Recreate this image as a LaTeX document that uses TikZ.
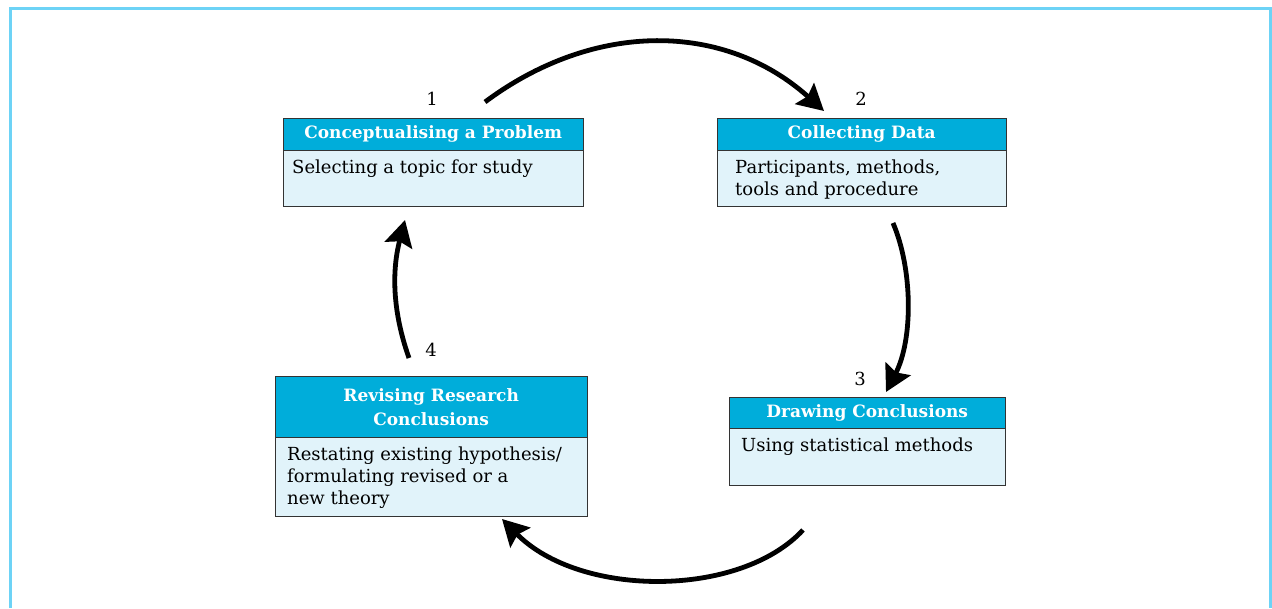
\documentclass[tikz,border=0pt]{standalone}
\usepackage{fontspec}
\setmainfont{DejaVu Serif}
\usetikzlibrary{positioning,arrows.meta}
\definecolor{hdrblue}{HTML}{00ADDA}
\definecolor{bodyblue}{HTML}{E1F3FA}
\definecolor{framblue}{HTML}{6DD3F6}
\definecolor{boxline}{HTML}{333333}
\tikzset{
  headbox/.style={draw=boxline,fill=hdrblue,text=white,font=\fontsize{17}{24}\selectfont\bfseries,align=center,inner sep=0pt,anchor=north west},
  bodybox/.style={draw=boxline,fill=bodyblue,font=\fontsize{18}{22}\selectfont,inner xsep=9pt,inner ysep=9pt},
  stepnum/.style={font=\fontsize{18}{20}\selectfont},
  cycle/.style={line width=4.8pt,-{Stealth[length=26pt,width=28pt,inset=4pt]}}
}
\begin{document}
\begin{tikzpicture}[x=1pt,y=-1pt]
    \useasboundingbox (0,0) rectangle (1272,608);
    \draw[framblue,line width=3pt] (10,608)--(10,8)--(1270,8)--(1270,608);
    % the four stages
    \node[headbox,minimum width=300pt,minimum height=32pt] (h1) at (283,118) {Conceptualising a Problem};
    \node[bodybox,below=0pt of h1] (b1) {\parbox[c][38pt][t]{282pt}{Selecting a topic for study}};
    \node[headbox,minimum width=289pt,minimum height=32pt] (h2) at (717,118) {Collecting Data};
    \node[bodybox,below=0pt of h2] (b2) {\parbox[c][38pt][t]{271pt}{\hspace*{9pt}Participants, methods,\\\hspace*{9pt}tools and procedure}};
    \node[headbox,minimum width=276pt,minimum height=31pt] (h3) at (729,397) {Drawing Conclusions};
    \node[bodybox,below=0pt of h3] (b3) {\parbox[c][39pt][t]{258pt}{\hspace*{3pt}Using statistical methods}};
    \node[headbox,minimum width=312pt,minimum height=61pt] (h4) at (275,376) {Revising Research\\Conclusions};
    \node[bodybox,below=0pt of h4] (b4) {\parbox[c][61pt][t]{294pt}{\hspace*{3pt}Restating existing hypothesis/\\\hspace*{3pt}formulating revised or a\\\hspace*{3pt}new theory}};
    % step numbers
    \node[stepnum] (n1) at (432,99) {1};
    \node[stepnum] (n2) at (861,99) {2};
    \node[stepnum] (n3) at (860,379) {3};
    \node[stepnum] (n4) at (431,350) {4};
    % arrows round the cycle
    \coordinate (a1) at (485,102);
    \coordinate (a2) at (824,111);
    \coordinate (c1) at (893,223);
    \coordinate (c2) at (886,392);
    \coordinate (d1) at (803,530);
    \coordinate (d2) at (502,519);
    \coordinate (e1) at (409,358);
    \coordinate (e2) at (405,220);
    \draw[cycle] (a1) .. controls (595,20) and (725,22) .. (a2);
    \draw[cycle] (c1) .. controls (913,270) and (913,340) .. (c2);
    \draw[cycle] (d1) .. controls (740,598) and (580,598) .. (d2);
    \draw[cycle] (e1) .. controls (392,310) and (392,270) .. (e2);
\end{tikzpicture}
\end{document}
